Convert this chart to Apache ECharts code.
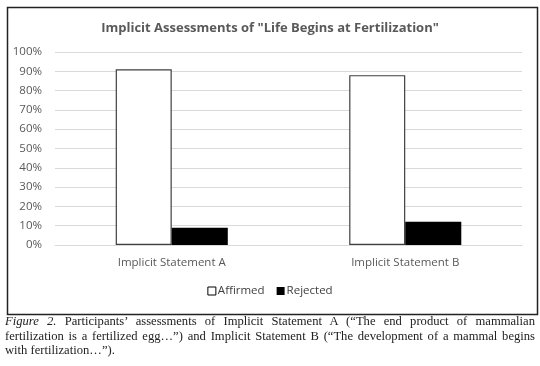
<!DOCTYPE html>
<html>
<head>
<meta charset="utf-8">
<script src="https://cdn.jsdelivr.net/npm/echarts@6/dist/echarts.min.js"></script>
<style>
html,body{margin:0;padding:0;background:#fff;}
#chart{position:absolute;left:0;top:0;width:540px;height:366px;}
#cap{position:absolute;left:5px;top:314px;width:530px;font-family:"Liberation Serif","DejaVu Serif",serif;font-size:12.6px;line-height:14.6px;color:#222;text-align:justify;}
</style>
</head>
<body>
<div id="chart"></div>
<div id="cap"><i>Figure 2.</i> Participants’ assessments of Implicit Statement A (“The end product of mammalian fertilization is a fertilized egg…”) and Implicit Statement B (“The development of a mammal begins with fertilization…”).</div>
<script>
const categories = ['Implicit Statement A', 'Implicit Statement B'];
const affirmed = [91, 88];
const rejected = [9, 12];
const yTicks = [0, 10, 20, 30, 40, 50, 60, 70, 80, 90, 100];

const chart = echarts.init(document.getElementById('chart'));
const font = 'Open Sans, sans-serif';
chart.setOption({
  animation: false,
  backgroundColor: '#fff',
  title: {
    text: 'Implicit Assessments of "Life Begins at Fertilization"',
    left: 'center', top: 17,
    textStyle: {fontFamily: font, fontSize: 13, fontWeight: 'bold', color: '#595959'}
  },
  legend: {
    bottom: 64, left: 'center',
    itemWidth: 8, itemHeight: 8, itemGap: 12,
    icon: 'rect',
    textStyle: {fontFamily: font, fontSize: 11.5, color: '#404040', padding: [0,0,0,-3]},
    data: [
      {name: 'Affirmed', itemStyle: {color: '#fff', borderColor: '#000', borderWidth: 1}},
      {name: 'Rejected', itemStyle: {color: '#000'}}
    ]
  },
  grid: {left: 55, right: 18, top: 52, bottom: 121},
  xAxis: {
    type: 'category', data: categories,
    axisLine: {show: true, lineStyle: {color: '#d9d9d9'}},
    axisTick: {show: false},
    axisLabel: {fontFamily: font, fontSize: 11.5, color: '#595959', margin: 12}
  },
  yAxis: {
    type: 'value', min: 0, max: 100, interval: 10,
    axisLine: {show: false}, axisTick: {show: false},
    splitLine: {lineStyle: {color: '#d9d9d9'}},
    axisLabel: {fontFamily: font, fontSize: 11.5, color: '#595959', margin: 13,
      formatter: v => yTicks.includes(v) ? v + '%' : ''}
  },
  series: [
    {name: 'Affirmed', type: 'bar', data: affirmed, barGap: 0, barCategoryGap: '52%',
     itemStyle: {color: '#fff', borderColor: '#404040', borderWidth: 1.2}},
    {name: 'Rejected', type: 'bar', data: rejected,
     itemStyle: {color: '#000'}}
  ],
  graphic: [{
    type: 'rect', left: 5, top: 5, z: -1,
    shape: {width: 530, height: 307},
    style: {fill: 'none', stroke: '#222', lineWidth: 1.5}
  }]
});
</script>
</body>
</html>
